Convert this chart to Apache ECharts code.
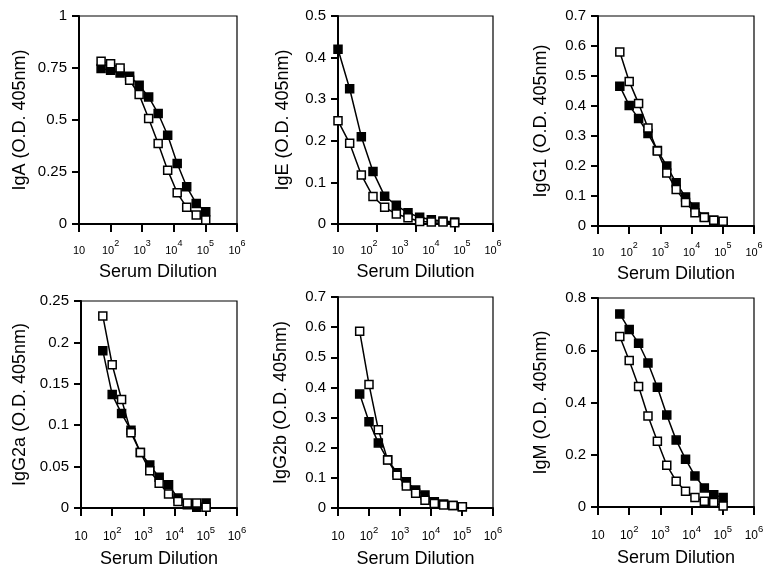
<!DOCTYPE html>
<html>
<head>
<meta charset="utf-8">
<script src="https://cdn.jsdelivr.net/npm/echarts@6/dist/echarts.min.js"></script>
<style>
html,body{margin:0;padding:0;background:#fff;}
#chart{width:772px;height:570px;}
</style>
</head>
<body>
<div id="chart"></div>
<script>
// ---- data ----
const dilutionFrom50 = [50, 100, 200, 400, 800, 1600, 3200, 6400, 12800, 25600, 51200, 102400];
const dilutionFrom10 = [10, 20, 40, 80, 160, 320, 640, 1280, 2560, 5120, 10240];
const xTickExponents = [1, 2, 3, 4, 5, 6];

const igaFilled = [0.747, 0.739, 0.726, 0.710, 0.667, 0.611, 0.531, 0.427, 0.291, 0.179, 0.099, 0.059];
const igaOpen   = [0.782, 0.771, 0.750, 0.691, 0.622, 0.507, 0.387, 0.259, 0.150, 0.080, 0.043, 0.019];

const igeFilled = [0.420, 0.325, 0.210, 0.126, 0.067, 0.045, 0.027, 0.016, 0.010, 0.007, 0.005];
const igeOpen   = [0.248, 0.194, 0.118, 0.066, 0.040, 0.024, 0.015, 0.006, 0.005, 0.005, 0.003];

const igg1Filled = [0.466, 0.402, 0.358, 0.308, 0.252, 0.200, 0.144, 0.097, 0.063, 0.030, 0.019, 0.013];
const igg1Open   = [0.580, 0.482, 0.408, 0.327, 0.250, 0.177, 0.122, 0.078, 0.044, 0.028, 0.019, 0.016];

const igg2aFilled = [0.190, 0.137, 0.114, 0.094, 0.067, 0.052, 0.037, 0.028, 0.012, 0.004, 0.001, 0.006];
const igg2aOpen   = [0.232, 0.173, 0.131, 0.091, 0.067, 0.045, 0.030, 0.017, 0.008, 0.006, 0.006, 0.001];

const igg2bFilled = [0.378, 0.286, 0.216, 0.160, 0.117, 0.087, 0.060, 0.043, 0.021, 0.013, 0.008, 0.004];
const igg2bOpen   = [0.586, 0.410, 0.260, 0.159, 0.109, 0.073, 0.049, 0.026, 0.015, 0.010, 0.008, 0.004];

const igmFilled = [0.739, 0.679, 0.627, 0.551, 0.458, 0.352, 0.256, 0.183, 0.119, 0.073, 0.047, 0.036];
const igmOpen   = [0.653, 0.561, 0.461, 0.348, 0.252, 0.160, 0.099, 0.060, 0.036, 0.022, 0.017, 0.004];

// ---- layout ----
const FONT = "'Liberation Sans', Arial, Helvetica, sans-serif";
const panels = [
  {label: 'IgA (O.D. 405nm)',   dil: dilutionFrom50, filled: igaFilled,   open: igaOpen,   yMax: 1,    yInt: 0.25, grid: {left: 79,  top: 16,  width: 158, height: 208}, nameGap: 50, row: 0},
  {label: 'IgE (O.D. 405nm)',   dil: dilutionFrom10, filled: igeFilled,   open: igeOpen,   yMax: 0.5,  yInt: 0.1,  grid: {left: 338, top: 16,  width: 155, height: 208}, nameGap: 46, row: 0, tickMax: 1e5},
  {label: 'IgG1 (O.D. 405nm)',  dil: dilutionFrom50, filled: igg1Filled,  open: igg1Open,  yMax: 0.7,  yInt: 0.1,  grid: {left: 598, top: 16,  width: 156, height: 210}, nameGap: 48, row: 0},
  {label: 'IgG2a (O.D. 405nm)', dil: dilutionFrom50, filled: igg2aFilled, open: igg2aOpen, yMax: 0.25, yInt: 0.05, grid: {left: 81,  top: 301, width: 156, height: 207}, nameGap: 52, row: 1},
  {label: 'IgG2b (O.D. 405nm)', dil: dilutionFrom50, filled: igg2bFilled, open: igg2bOpen, yMax: 0.7,  yInt: 0.1,  grid: {left: 338, top: 297, width: 155, height: 211}, nameGap: 48, row: 1},
  {label: 'IgM (O.D. 405nm)',   dil: dilutionFrom50, filled: igmFilled,   open: igmOpen,   yMax: 0.8,  yInt: 0.2,  grid: {left: 598, top: 298, width: 156, height: 209}, nameGap: 48, row: 1}
];
const rowStyle = [
  {labelMargin: 15, baseSize: 11, supSize: 9, nameGap: 39},
  {labelMargin: 17, baseSize: 12, supSize: 9.5, nameGap: 42}
];

function xLabel(v) {
  const e = Math.round(Math.log10(v));
  if (xTickExponents.indexOf(e) < 0) return '';
  return e === 1 ? '{b|10}' : '{b|10}{s|' + e + '}';
}
function xRich(rs) {
  return {
    b: {fontSize: rs.baseSize, fontFamily: FONT, color: '#000', lineHeight: 24, verticalAlign: 'middle'},
    s: {fontSize: rs.supSize, fontFamily: FONT, color: '#000', lineHeight: 11, verticalAlign: 'top'}
  };
}

const grids = [], xAxes = [], yAxes = [], series = [];
panels.forEach((p, i) => {
  const rs = rowStyle[p.row];
  grids.push(Object.assign({show: true, borderColor: '#000', borderWidth: 1.2, backgroundColor: 'transparent'}, p.grid));
  const tickAxisIndex = xAxes.length;
  const split = p.tickMax ? true : false;
  const nameStyle = {fontSize: 18, fontFamily: FONT, color: '#000'};
  xAxes.push({
    type: 'log', logBase: 10, gridIndex: i, position: 'bottom', min: 10, max: p.tickMax || 1e6,
    splitNumber: p.tickMax ? 4 : 5,
    axisLine: {show: true, onZero: false, lineStyle: {color: '#000', width: 2}},
    axisTick: {show: true, inside: false, length: 8, lineStyle: {color: '#000', width: 2}},
    splitLine: {show: false}, minorTick: {show: false},
    axisLabel: {show: !split, margin: rs.labelMargin, formatter: xLabel, rich: xRich(rs), showMinLabel: true, showMaxLabel: true, hideOverlap: false},
    name: split ? '' : 'Serum Dilution', nameLocation: 'middle', nameGap: rs.nameGap, nameTextStyle: nameStyle
  });
  if (split) {
    xAxes.push({
      type: 'log', logBase: 10, gridIndex: i, position: 'bottom', offset: 0, min: 10, max: 1e6, splitNumber: 5,
      axisLine: {show: false, onZero: false}, axisTick: {show: false}, splitLine: {show: false},
      axisLabel: {show: true, margin: rs.labelMargin, formatter: xLabel, rich: xRich(rs), showMinLabel: true, showMaxLabel: true, hideOverlap: false},
      name: 'Serum Dilution', nameLocation: 'middle', nameGap: rs.nameGap, nameTextStyle: nameStyle
    });
  }
  yAxes.push({
    type: 'value', gridIndex: i, position: 'left', min: 0, max: p.yMax, interval: p.yInt,
    axisLine: {show: true, onZero: false, lineStyle: {color: '#000', width: 2}},
    axisTick: {show: true, inside: false, length: 7, lineStyle: {color: '#000', width: 2}},
    splitLine: {show: false},
    axisLabel: {color: '#000', fontSize: 15, fontFamily: FONT, margin: 12},
    name: p.label, nameLocation: 'middle', nameGap: p.nameGap, nameRotate: 90, nameTextStyle: nameStyle
  });
  const mk = (vals, fill, z) => ({
    type: 'line', xAxisIndex: tickAxisIndex, yAxisIndex: i, z: z,
    data: p.dil.map((d, k) => [d, vals[k]]),
    symbol: 'rect', symbolSize: 8, showSymbol: true,
    lineStyle: {color: '#000', width: 1.5},
    itemStyle: {color: fill, borderColor: '#000', borderWidth: 1.5},
    emphasis: {disabled: true}, animation: false
  });
  series.push(mk(p.filled, '#000', 2));
  series.push(mk(p.open, '#fff', 3));
});

const chart = echarts.init(document.getElementById('chart'), null, {renderer: 'canvas'});
chart.setOption({
  backgroundColor: '#fff',
  animation: false,
  textStyle: {fontFamily: FONT},
  grid: grids, xAxis: xAxes, yAxis: yAxes, series: series
});
</script>
</body>
</html>
